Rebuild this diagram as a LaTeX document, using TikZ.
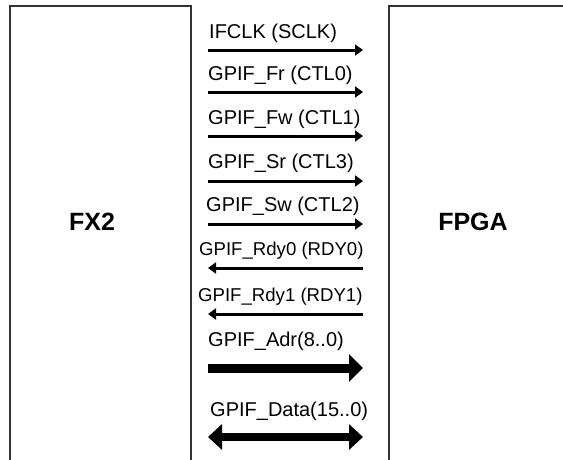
\documentclass[tikz,border=0pt]{standalone}
\usepackage{fontspec}
\setmainfont{Liberation Sans}
\usetikzlibrary{arrows.meta}
\begin{document}
\begin{tikzpicture}[x=1pt,y=-1pt,
  boxline/.style={draw=black!80,line width=2pt},
  title/.style={font=\fontsize{25}{28}\selectfont\bfseries},
  lbl/.style={font=\fontsize{20}{22}\selectfont,anchor=base west,inner sep=0pt},
  lblr/.style={font=\fontsize{18.6}{22}\selectfont,anchor=base west,inner sep=0pt},
  sig/.style={line width=3pt,-{Triangle[length=8pt,width=11pt]}},
  bus/.style={line width=9pt,-{Triangle[length=14pt,width=27pt]}},
  bibus/.style={line width=8pt,{Triangle[length=14pt,width=25pt]}-{Triangle[length=14pt,width=25pt]}}]
\useasboundingbox (0,0) rectangle (563,459);
\fill[white] (0,0) rectangle (563,459);
\begin{scope}
\clip (0,0) rectangle (563,459);
\draw[boxline] (10,470) -- (10,6) -- (191,6) -- (191,470);
\draw[boxline] (389,470) -- (389,6) -- (575,6);
\end{scope}
\node[title] (fx2) at (92,222) {FX2};
\node[title] (fpga) at (473,222) {FPGA};
% arrow end points
\foreach \n/\y in {1/50,2/92,3/136,4/181,5/224,6/268,7/314,8/368,9/437}{
  \coordinate (l\n) at (208,\y);
  \coordinate (r\n) at (363,\y);
}
\node[lbl] (t1) at (209,38) {IFCLK (SCLK)};
\node[lbl] (t2) at (208,80) {GPIF\_Fr (CTL0)};
\node[lbl] (t3) at (208,124) {GPIF\_Fw (CTL1)};
\node[lbl] (t4) at (208,168) {GPIF\_Sr (CTL3)};
\node[lbl] (t5) at (206,211) {GPIF\_Sw (CTL2)};
\node[lblr] (t6) at (199,255) {GPIF\_Rdy0 (RDY0)};
\node[lblr] (t7) at (198,301) {GPIF\_Rdy1 (RDY1)};
\node[lbl] (t8) at (208,346) {GPIF\_Adr(8..0)};
\node[lbl] (t9) at (210,416) {GPIF\_Data(15..0)};
\draw[sig] (l1) -- (r1);
\draw[sig] (l2) -- (r2);
\draw[sig] (l3) -- (r3);
\draw[sig] (l4) -- (r4);
\draw[sig] (l5) -- (r5);
\draw[sig] (r6) -- (l6);
\draw[sig] (r7) -- (l7);
\draw[bus] (l8) -- (r8);
\draw[bibus] (l9) -- (r9);
\end{tikzpicture}
\end{document}
